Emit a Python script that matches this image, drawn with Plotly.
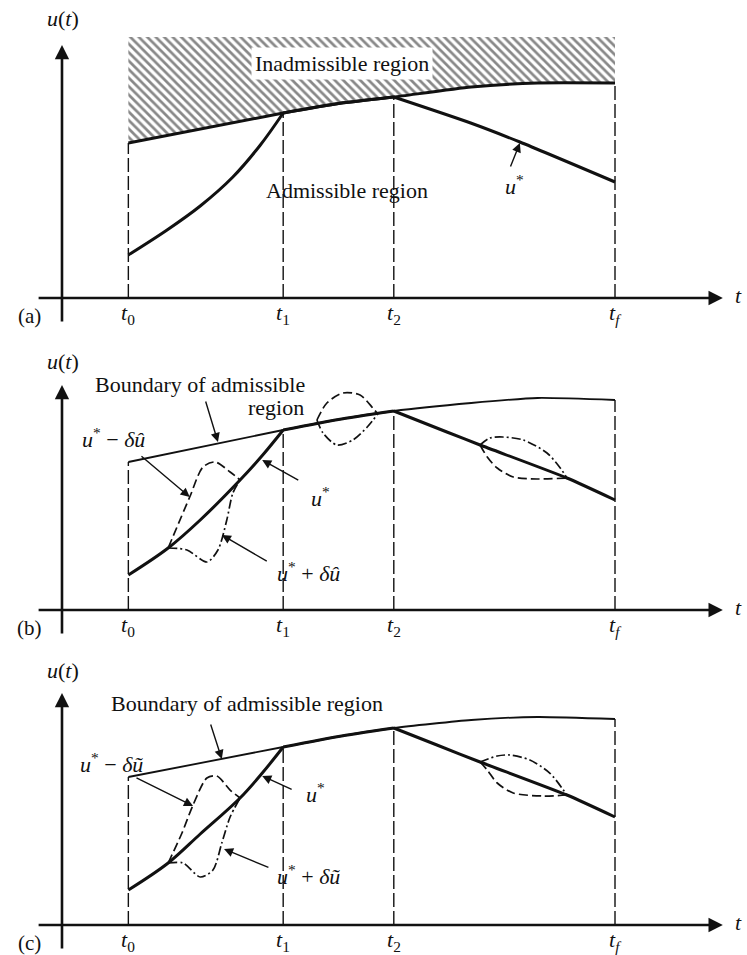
import plotly.graph_objects as go

# ---------------------------------------------------------------- data
# time instants t0, t1, t2, tf
T_MARKS = [1.2, 4.0, 6.0, 10.0]
T_LABELS = ["<i>t</i><sub>0</sub>", "<i>t</i><sub>1</sub>",
            "<i>t</i><sub>2</sub>", "<i>t</i><sub><i>f</i></sub>"]
PANEL_TAGS = ["(a)", "(b)", "(c)"]

# boundary of the admissible region (knots along t)
BOUND_T = [1.2, 4.0, 5.0, 6.0, 7.4, 8.6, 10.0]
BOUND_U_A = [3.10, 3.70, 3.89, 4.02, 4.22, 4.30, 4.30]
BOUND_U_B = [2.96, 3.60, 3.81, 3.98, 4.14, 4.24, 4.20]
BOUND_U_C = [2.96, 3.56, 3.77, 3.94, 4.10, 4.16, 4.12]
HATCH_TOP = 5.22

# optimal control u*: rising arc on [t0, t1]
RISE_T_A = [1.2, 1.9, 2.5, 3.09, 3.58, 4.0]
RISE_U_A = [0.86, 1.36, 1.84, 2.42, 3.05, 3.70]
RISE_T_BC = [1.2, 1.92, 2.5, 3.22, 3.63, 4.0]
RISE_U_B = [0.70, 1.24, 1.80, 2.60, 3.10, 3.60]
RISE_U_C = [0.70, 1.24, 1.82, 2.54, 3.05, 3.56]

# optimal control u*: falling arc on [t2, tf]
FALL_T_A = [6.0, 7.39, 8.28, 10.0]
FALL_U_A = [4.02, 3.50, 3.12, 2.32]
FALL_T_B = [6.0, 6.96, 7.56, 9.13, 10.0]
FALL_U_B = [3.98, 3.56, 3.30, 2.64, 2.20]
FALL_T_C = [6.0, 6.78, 7.56, 9.13, 10.0]
FALL_U_C = [3.94, 3.60, 3.26, 2.60, 2.16]

# variations in (b): u* - du (dashed) and u* + du (dash-dot)
B1_MINUS_T = [1.92, 2.31, 2.55, 2.77, 3.04, 3.22]
B1_MINUS_U = [1.24, 2.26, 2.86, 2.96, 2.76, 2.60]
B1_PLUS_T = [1.92, 2.26, 2.62, 2.82, 2.98, 3.09, 3.22]
B1_PLUS_U = [1.24, 1.20, 0.96, 1.20, 1.80, 2.34, 2.60]
B2_UP_T = [4.61, 4.79, 5.08, 5.39, 5.62, 5.71]
B2_UP_U = [3.80, 4.14, 4.34, 4.30, 4.04, 3.92]
B2_DN_T = [4.61, 4.72, 4.97, 5.26, 5.52, 5.71]
B2_DN_U = [3.80, 3.54, 3.30, 3.40, 3.66, 3.92]
B3_UP_T = [7.56, 7.74, 7.97, 8.34, 8.77, 9.01, 9.13]
B3_UP_U = [3.30, 3.44, 3.46, 3.40, 3.14, 2.84, 2.64]
B3_DN_T = [7.56, 7.69, 7.87, 8.16, 8.59, 9.13]
B3_DN_U = [3.30, 3.06, 2.84, 2.66, 2.62, 2.64]

# variations in (c)
C1_MINUS_T = [1.92, 2.17, 2.37, 2.62, 2.80, 3.04, 3.22]
C1_MINUS_U = [1.24, 1.84, 2.40, 2.94, 2.98, 2.70, 2.54]
C1_PLUS_T = [1.92, 2.19, 2.50, 2.73, 2.89, 3.04, 3.22]
C1_PLUS_U = [1.24, 1.24, 0.96, 1.10, 1.64, 2.16, 2.54]
C3_UP_T = [7.56, 7.87, 8.10, 8.46, 8.82, 9.13]
C3_UP_U = [3.26, 3.38, 3.40, 3.30, 3.04, 2.60]
C3_DN_T = [7.56, 7.69, 7.87, 8.16, 8.70, 9.13]
C3_DN_U = [3.26, 3.10, 2.84, 2.64, 2.58, 2.60]

# axis extents (t-axis from/to, u-axis tops per panel)
T_AXIS = [-0.45, 11.95]
U_AXIS_BOTTOM = -0.5
U_AXIS_TOP = [5.06, 4.50, 4.64]

# ---------------------------------------------------------------- style
INK = "#111111"
SERIF = "Liberation Serif, Times New Roman, serif"
FS = 22
DASH = "9px,4px"
DASHDOT = "9px,3px,2px,3px"
VDASH = "14px,4px"

fig = go.Figure()
YREFS = ["y", "y2", "y3"]


def line(x, y, yref, width, dash="solid", shape="spline", smooth=0.55):
    fig.add_trace(go.Scatter(
        x=x, y=y, mode="lines", yaxis=yref, xaxis="x",
        line=dict(color=INK, width=width, dash=dash, shape=shape, smoothing=smooth),
        hoverinfo="skip", showlegend=False))


def text(x, y, yref, s, size=FS, xanchor="center", bg=None):
    fig.add_annotation(x=x, y=y, xref="x", yref=yref, text=s, showarrow=False,
                       xanchor=xanchor, yanchor="middle",
                       font=dict(family=SERIF, size=size, color=INK),
                       bgcolor=bg, borderpad=3)


def arrow(tail, tip, yref, width=1.4, head=2, size=1.3):
    fig.add_annotation(x=tip[0], y=tip[1], ax=tail[0], ay=tail[1],
                       xref="x", yref=yref, axref="x", ayref=yref,
                       text="", showarrow=True, arrowhead=head,
                       arrowsize=size, arrowwidth=width, arrowcolor=INK,
                       standoff=0, startstandoff=0)


# hatched inadmissible region in (a)
fig.add_trace(go.Scatter(x=BOUND_T, y=BOUND_U_A, mode="lines", yaxis="y",
                         line=dict(width=0, shape="spline", smoothing=0.55),
                         hoverinfo="skip", showlegend=False))
fig.add_trace(go.Scatter(x=[T_MARKS[0], T_MARKS[-1]], y=[HATCH_TOP, HATCH_TOP],
                         mode="lines", yaxis="y", fill="tonexty",
                         fillcolor="white",
                         fillpattern=dict(shape="\\", fgcolor=INK, bgcolor="white",
                                          size=6, solidity=0.45),
                         line=dict(width=0), hoverinfo="skip", showlegend=False))

panels = [
    dict(bound=BOUND_U_A, rise_t=RISE_T_A, rise_u=RISE_U_A,
         fall_t=FALL_T_A, fall_u=FALL_U_A, bw=3.0),
    dict(bound=BOUND_U_B, rise_t=RISE_T_BC, rise_u=RISE_U_B,
         fall_t=FALL_T_B, fall_u=FALL_U_B, bw=1.8),
    dict(bound=BOUND_U_C, rise_t=RISE_T_BC, rise_u=RISE_U_C,
         fall_t=FALL_T_C, fall_u=FALL_U_C, bw=1.8),
]

for k, p in enumerate(panels):
    yr = YREFS[k]
    b = p["bound"]
    # vertical guide lines at t0, t1, t2, tf up to the boundary
    for tm in T_MARKS:
        top = b[BOUND_T.index(tm)]
        line([tm, tm], [0, top], yr, 1.4, dash=VDASH, shape="linear")
    # boundary and optimal trajectory
    line(BOUND_T, b, yr, p["bw"])
    line(p["rise_t"], p["rise_u"], yr, 3.0, smooth=1.0)
    i1, i2 = BOUND_T.index(T_MARKS[1]), BOUND_T.index(T_MARKS[2])
    line(BOUND_T[i1:i2 + 1], b[i1:i2 + 1], yr, 3.0)
    line(p["fall_t"], p["fall_u"], yr, 3.0, smooth=0.6)
    # axes with arrow heads
    arrow((T_AXIS[0], 0), (T_AXIS[1], 0), yr, width=2.6, head=2, size=1.1)
    arrow((0, U_AXIS_BOTTOM), (0, U_AXIS_TOP[k]), yr, width=2.6, head=2, size=1.1)
    # tick labels
    for tm, lab in zip(T_MARKS, T_LABELS):
        text(tm, -0.31, yr, lab)
    text(T_AXIS[1] + 0.28, 0.05, yr, "<i>t</i>")
    text(-0.58, -0.36, yr, PANEL_TAGS[k], size=FS - 1)
    text(0.02, U_AXIS_TOP[k] + 0.54 if k == 0 else U_AXIS_TOP[k] + 0.46, yr, "<i>u</i>(<i>t</i>)")

# variations
for xs, ys, yr, d in [
    (B1_MINUS_T, B1_MINUS_U, "y2", DASH), (B1_PLUS_T, B1_PLUS_U, "y2", DASHDOT),
    (B2_UP_T, B2_UP_U, "y2", DASH), (B2_DN_T, B2_DN_U, "y2", DASHDOT),
    (B3_UP_T, B3_UP_U, "y2", DASHDOT), (B3_DN_T, B3_DN_U, "y2", DASH),
    (C1_MINUS_T, C1_MINUS_U, "y3", DASH), (C1_PLUS_T, C1_PLUS_U, "y3", DASHDOT),
    (C3_UP_T, C3_UP_U, "y3", DASHDOT), (C3_DN_T, C3_DN_U, "y3", DASH),
]:
    line(xs, ys, yr, 1.7, dash=d, smooth=0.8)

# ---------------------------------------------------------------- labels (a)
text(5.06, 4.70, "y", "Inadmissible region", bg="white")
text(5.15, 2.16, "y", "Admissible region")
text(8.19, 2.26, "y", "<i>u</i><sup>*</sup>")
arrow((8.10, 2.60), (8.28, 3.10), "y")

# ---------------------------------------------------------------- labels (b)
text(2.49, 4.50, "y2", "Boundary of admissible")
text(4.45, 4.04, "y2", "region", xanchor="right")
arrow((2.59, 4.20), (2.82, 3.36), "y2")
text(0.94, 3.44, "y2", "<i>u</i><sup>*</sup> − <i>δû</i>")
arrow((1.41, 3.10), (2.31, 2.26), "y2")
text(4.67, 2.26, "y2", "<i>u</i><sup>*</sup>")
arrow((4.30, 2.58), (3.62, 3.00), "y2")
text(4.45, 0.76, "y2", "<i>u</i><sup>*</sup> + <i>δû</i>")
arrow((3.73, 0.96), (2.89, 1.50), "y2")

# ---------------------------------------------------------------- labels (c)
text(3.35, 4.44, "y3", "Boundary of admissible region")
arrow((2.68, 4.04), (2.89, 3.32), "y3")
text(0.90, 3.24, "y3", "<i>u</i><sup>*</sup> − <i>δũ</i>")
arrow((1.32, 2.96), (2.37, 2.38), "y3")
text(4.58, 2.64, "y3", "<i>u</i><sup>*</sup>")
arrow((4.18, 2.70), (3.62, 2.98), "y3")
text(4.45, 1.00, "y3", "<i>u</i><sup>*</sup> + <i>δũ</i>")
arrow((3.76, 1.14), (2.93, 1.52), "y3")

# ---------------------------------------------------------------- layout
hidden = dict(visible=False, fixedrange=True)
fig.update_layout(
    width=747, height=955, margin=dict(l=0, r=0, t=0, b=0),
    paper_bgcolor="white", plot_bgcolor="white", showlegend=False,
    xaxis=dict(range=[-1.121, 12.387], **hidden),
    yaxis=dict(domain=[0.66283, 1.0], range=[-0.48, 5.96], **hidden),
    yaxis2=dict(domain=[0.32984, 0.66283], range=[-0.60, 5.76], **hidden),
    yaxis3=dict(domain=[0.0, 0.32984], range=[-0.60, 5.70], **hidden),
)

fig.write_html("out.html")
